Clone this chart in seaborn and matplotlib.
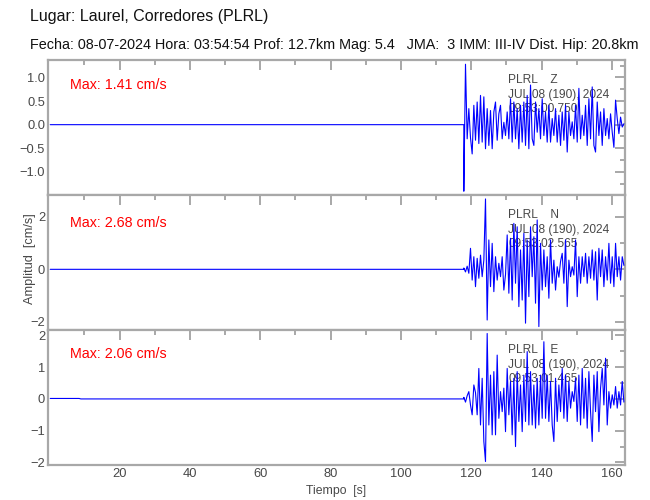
import numpy as np
import pandas as pd
import matplotlib
matplotlib.use("Agg")
import matplotlib.pyplot as plt
import seaborn as sns
from matplotlib.ticker import MultipleLocator, FixedLocator, FuncFormatter

# ---------------- data ----------------
event_start = 117.91        # s, first sample of the strong-motion section
event_end = 163.43          # s, last sample shown
pre_time = [0.3, 8.5, 9.0, 117.4, 117.91]

z_pre = [0.0, 0.0, 0.0, 0.0, 0.0]
n_pre = [0.0, 0.0, 0.0, 0.0, 0.0]
e_pre = [0.015, 0.015, 0.0, 0.0, 0.0]

z_amp = [-1.41, 1.28, -0.30, 0.34, -0.28, -0.62, 0.41, -0.33, 0.48, -0.40,
         0.62, -0.37, 0.59, -0.51, 0.34, -0.44, 0.30, -0.51, 0.27, 0.48,
         -0.33, 0.23, 0.41, -0.30, 0.05, -0.23, 0.27, -0.30, 0.55, -0.37,
         0.48, -0.30, 0.34, -0.51, 0.41, -0.37, 0.48, -0.44, 0.62, -0.51,
         0.84, -0.30, -0.44, 0.48, -0.16, 0.34, -0.30, 0.55, -0.23, 0.27,
         -0.37, 0.41, -0.37, 0.13, -0.23, 0.34, -0.37, 0.20, -0.44, 0.27,
         -0.33, 0.41, -0.58, 0.27, -0.23, 0.06, -0.30, 0.41, -0.37, 0.77,
         -0.30, 0.20, -0.23, 0.41, -0.44, 0.55, -0.30, 0.80, -0.44, -0.58,
         0.48, -0.23, 0.27, -0.44, 0.34, -0.23, 0.13, -0.30, 0.23, -0.16,
         -0.48, 0.52, 0.13, -0.19, 0.16, -0.05, 0.02]

n_amp = [0.05, -0.10, 0.12, -0.15, 0.80, -0.41, 0.48, -0.66, 0.42, -0.34,
         0.54, -0.28, 0.35, 2.68, -1.93, 1.12, -0.66, 0.99, -0.85, 0.48,
         -0.41, 0.23, -0.28, 0.48, -0.79, -0.20, 1.31, -0.91, 1.18, -1.17,
         1.75, -0.53, 1.62, -1.42, 0.74, -1.17, 1.37, -2.05, 1.12, -1.04,
         1.62, -0.28, 1.24, -1.29, 1.88, -2.18, 0.99, -0.79, 0.74, -0.66,
         0.48, -1.10, 1.12, -0.53, 0.35, -0.79, 0.10, -0.30, 0.30, 0.61,
         -0.53, 1.12, -1.42, 0.35, -0.28, 0.10, -0.22, 1.12, -1.04, 0.48,
         -0.53, 0.48, -0.28, 0.61, -0.53, 0.48, -0.34, 0.74, -0.41, 0.67,
         -1.17, 0.80, -0.28, 0.74, -0.66, 0.48, -0.41, 0.99, -0.53, 0.48,
         -0.66, 0.99, -0.28, 0.48, -0.41, 0.48, 0.15]

e_amp = [0.05, -0.10, 0.10, 0.23, -0.19, -0.50, 0.44, 0.20, -0.50, 0.96,
         -0.82, 0.65, -1.34, -1.97, 2.06, -0.82, 0.75, -1.13, 0.86, -1.13,
         1.38, -0.61, 0.23, -0.40, 0.34, -1.03, 0.96, -0.50, 0.55, -1.13,
         0.65, -1.50, 0.86, -0.71, 0.44, -1.03, 0.75, -0.71, 1.49, -0.82,
         0.86, -0.82, 0.44, -0.92, 0.65, -0.82, 0.75, -0.61, 1.80, -0.61,
         0.75, -0.71, 0.55, -0.82, -1.34, 0.65, -0.71, 0.44, -0.40, 0.96,
         -0.61, 0.75, -0.71, 0.55, -0.29, 0.23, -0.08, 0.65, -0.71, 0.75,
         -0.82, 0.96, -0.61, 0.65, -0.92, 0.86, -0.40, -1.34, 0.75, -0.40,
         0.86, -1.03, 0.34, 0.96, -0.19, 1.28, -0.82, 0.23, -0.29, 0.13,
         -0.19, 0.39, -0.29, 0.23, -0.19, 0.55, -0.10]

components = ["Z", "N", "E"]
max_labels = ["Max: 1.41 cm/s", "Max: 2.68 cm/s", "Max: 2.06 cm/s"]
start_times = ["09:53:00.750", "09:53:02.565", "09:53:01.465"]
ylims = [(-1.49, 1.37), (-2.31, 2.83), (-2.08, 2.17)]
major_steps = [0.5, 2.0, 1.0]
minor_steps = [0.25, 1.0, 0.5]
y_decimals = [1, 0, 0]
x_label_ticks = [20, 40, 60, 80, 100, 120, 140, 160]
x_minor_ticks = [10, 30, 50, 70, 90, 110, 130, 150]

title = "Lugar: Laurel, Corredores (PLRL)"
subtitle = ("Fecha: 08-07-2024 Hora: 03:54:54 Prof: 12.7km Mag: 5.4   "
            "JMA:  3 IMM: III-IV Dist. Hip: 20.8km")

# ---------------- figure ----------------
sns.set_style("white")
plt.rcParams["font.family"] = ["Liberation Sans", "DejaVu Sans"]

fig = plt.figure(figsize=(6.5, 5.0), dpi=100)
W, H = 650.0, 500.0
left, right = 48 / W, 624.5 / W
tops = [60, 195, 330]
ph = 135

gray = "#a8a8a8"
txtgray = "#484848"

pre_list = [z_pre, n_pre, e_pre]
amp_list = [z_amp, n_amp, e_amp]
max_y = [0.815, 0.79, 0.82]


def make_fmt(dec):
    def f(v, pos):
        s = f"{v:.{dec}f}"
        if float(s) == 0:
            s = s.lstrip("-")
        return s.replace("-", "\u2212")
    return FuncFormatter(f)


axes = []
for k in range(3):
    ax = fig.add_axes([left, 1 - (tops[k] + ph) / H, right - left, ph / H])
    axes.append(ax)
    amps = amp_list[k]
    t_event = np.linspace(event_start, event_end, len(amps))
    df = pd.DataFrame({
        "t": list(pre_time) + list(t_event),
        "v": list(pre_list[k]) + list(amps),
    })
    sns.lineplot(data=df, x="t", y="v", ax=ax, color="#0000ff", lw=0.8,
                 estimator=None, sort=False, zorder=3)
    ax.set_xlim(-0.34, 163.6)
    ax.set_ylim(*ylims[k])
    ax.set_xlabel("")
    ax.set_ylabel("")
    for s in ax.spines.values():
        s.set_color(gray)
        s.set_linewidth(1.6)
        s.set_visible(True)
    ax.xaxis.set_major_locator(FixedLocator(x_label_ticks))
    ax.xaxis.set_minor_locator(FixedLocator(x_minor_ticks))
    ax.yaxis.set_major_locator(MultipleLocator(major_steps[k]))
    ax.yaxis.set_minor_locator(MultipleLocator(minor_steps[k]))
    ax.yaxis.set_major_formatter(make_fmt(y_decimals[k]))
    ax.tick_params(which="both", direction="in", top=True, right=True,
                   color=gray, width=1.4, labelcolor=txtgray, labelsize=9.3,
                   pad=2)
    ax.tick_params(which="major", length=7)
    ax.tick_params(which="minor", length=3.5)
    if k < 2:
        ax.tick_params(labelbottom=False)
    ax.text(0.038, max_y[k], max_labels[k], transform=ax.transAxes,
            color="#ff0000", fontsize=10.3, va="center", ha="left", zorder=5)
    ax.text(0.798, 0.852, "PLRL    " + components[k], transform=ax.transAxes,
            color=txtgray, fontsize=8.6, va="center", ha="left", zorder=1)
    ax.text(0.798, 0.742, "JUL 08 (190), 2024", transform=ax.transAxes,
            color=txtgray, fontsize=8.6, va="center", ha="left", zorder=1)
    ax.text(0.798, 0.637, start_times[k], transform=ax.transAxes,
            color=txtgray, fontsize=8.6, va="center", ha="left", zorder=1)

fig.text(336 / W, 1 - 491 / H, "Tiempo  [s]", color=txtgray, fontsize=8.8,
         ha="center", va="center")
fig.text(30 / W, 1 - 259 / H, "Amplitud  [cm/s]", rotation=90, color=txtgray,
         fontsize=9.2, ha="center", va="center")

fig.text(30 / W, 1 - 17 / H, title, fontsize=11.5, ha="left", va="center", color="#111111")
fig.text(30 / W, 1 - 45 / H, subtitle, fontsize=10.4, ha="left", va="center", color="#111111")

fig.savefig("out.png", dpi=100)
